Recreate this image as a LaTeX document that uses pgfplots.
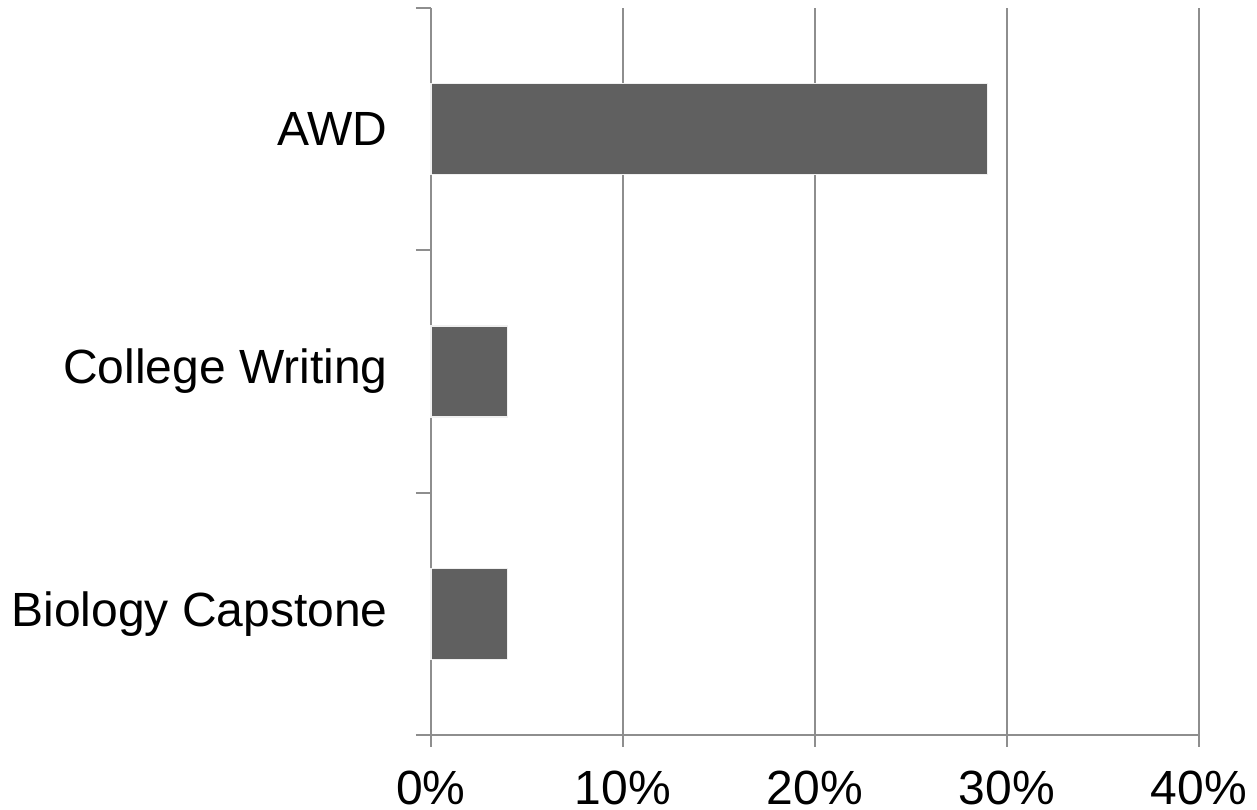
\documentclass[border=0pt]{standalone}
\usepackage{pgfplots}
\pgfplotsset{compat=1.18}
\usepackage{fontspec}
\setmainfont{Liberation Sans}
\definecolor{axgray}{HTML}{8E8E8E}
\definecolor{bargray}{HTML}{606060}
\definecolor{baredge}{HTML}{F0F0F0}
\begin{document}
\fontsize{24}{29}\selectfont
\begin{tikzpicture}
\begin{axis}[
  name=ax,
  scale only axis,
  width=384pt, height=363.5pt,
  xmin=0, xmax=40,
  ymin=-0.5, ymax=2.5,
  axis x line*=bottom,
  axis y line*=left,
  axis line style={draw=axgray, line width=1.1pt},
  xtick={0,10,20,30,40},
  xticklabel={\pgfmathprintnumber{\tick}\%},
  /pgf/number format/assume math mode=true,
  xmajorgrids,
  grid style={draw=axgray, line width=1.1pt},
  major tick length=6pt,
  tick align=outside,
  tick style={draw=axgray, line width=1.1pt},
  ytick={0,1,2},
  yticklabels={Biology Capstone, College Writing, AWD},
  ytick style={draw=none},
  minor ytick={-0.5,0.5,1.5,2.5},
  minor tick length=7.5pt,
  minor y tick style={draw=axgray, line width=1.1pt},
  yticklabel style={font=\fontsize{24}{29}\selectfont, inner sep=0pt, xshift=-15.5pt},
  xticklabel style={font=\fontsize{24}{29}\selectfont, inner sep=0pt, yshift=-12pt},
  xbar,
  bar width=0.376,
  clip=false,
]
\addplot[fill=bargray, draw=baredge, line width=0.6pt] coordinates {(4,0) (4,1) (29,2)};
\end{axis}
\pgfresetboundingbox
\path[use as bounding box] ([shift={(-215.5pt,-37.5pt)}]ax.south west) rectangle ([shift={(29pt,4pt)}]ax.north east);
\end{tikzpicture}
\end{document}
